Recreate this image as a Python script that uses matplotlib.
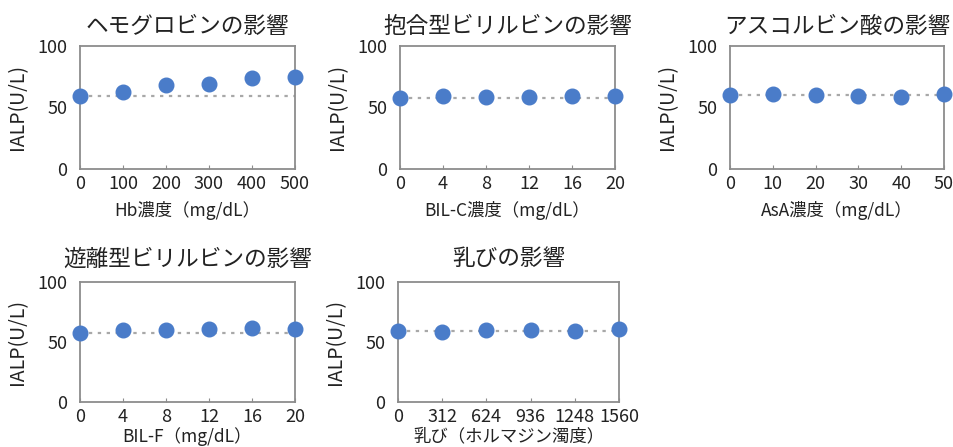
import matplotlib
matplotlib.use("Agg")
import matplotlib.pyplot as plt

plt.rcParams['font.family'] = ['Noto Sans CJK JP', 'DejaVu Sans']

# Interference study: IALP measured against interferent concentration
hb_conc = [0, 100, 200, 300, 400, 500]
hb_ialp = [59, 63, 68, 69, 74, 75]

bilc_conc = [0, 4, 8, 12, 16, 20]
bilc_ialp = [58, 59.5, 58.8, 58.3, 59.2, 59.6]

asa_conc = [0, 10, 20, 30, 40, 50]
asa_ialp = [60.2, 61.0, 60.2, 59.6, 58.3, 61.0]

bilf_conc = [0, 4, 8, 12, 16, 20]
bilf_ialp = [57.8, 59.8, 59.8, 60.5, 61.7, 60.5]

chyle_conc = [0, 312, 624, 936, 1248, 1560]
chyle_ialp = [59.4, 58.6, 60.0, 60.0, 59.4, 60.6]

titles = ["ヘモグロビンの影響", "抱合型ビリルビンの影響", "アスコルビン酸の影響",
          "遊離型ビリルビンの影響", "乳びの影響"]
xlabels = ["Hb濃度（mg/dL）", "BIL-C濃度（mg/dL）", "AsA濃度（mg/dL）",
           "BIL-F（mg/dL）", "乳び（ホルマジン濁度）"]
ylabel = "IALP(U/L)"
yticks = [0, 50, 100]

series = [(hb_conc, hb_ialp), (bilc_conc, bilc_ialp), (asa_conc, asa_ialp),
          (bilf_conc, bilf_ialp), (chyle_conc, chyle_ialp)]

W, H = 954, 447
fig = plt.figure(figsize=(W / 100, H / 100), dpi=100)
fig.patch.set_facecolor("white")

# axes boxes in pixels: left, top, right, bottom
boxes = [(80, 46, 295, 169), (400, 46, 615, 169), (730, 46, 944, 169),
         (80, 282, 295, 402), (398, 282, 619, 402)]
title_pads = [9.5, 9.5, 9.5, 12, 12]
xlabel_gaps = [32, 32, 32, 25, 25]

point_color = "#4a7cc9"
frame_color = "#8c8c8c"
text_color = "#222222"

for (l, t, r, b), (xs, ys), title, xl, tpad, gap in zip(
        boxes, series, titles, xlabels, title_pads, xlabel_gaps):
    ax = fig.add_axes([l / W, 1 - b / H, (r - l) / W, (b - t) / H])
    ax.set_xlim(xs[0], xs[-1])
    ax.set_ylim(0, 100)
    # reference level from the control sample
    ax.plot([xs[0], xs[-1]], [ys[0], ys[0]], linestyle=(0, (1.5, 2.5)),
            color="#a8a8a8", linewidth=1.6, zorder=1, clip_on=False)
    ax.plot(xs, ys, linestyle="none", marker="o", markersize=10.5,
            color=point_color, markeredgecolor=point_color, zorder=3,
            clip_on=False)
    ax.set_xticks(xs)
    ax.set_xticklabels([str(v) for v in xs])
    ax.set_yticks(yticks)
    for sp in ax.spines.values():
        sp.set_color(frame_color)
        sp.set_linewidth(1.3)
    ax.tick_params(axis="x", direction="in", length=3, color=frame_color,
                   labelsize=13, pad=4, labelcolor=text_color)
    ax.tick_params(axis="y", length=0, labelsize=13, pad=9,
                   labelcolor=text_color)
    ax.set_title(title, fontsize=16.3, pad=tpad, color=text_color)
    ax.set_xlabel(xl, fontsize=12.5, color=text_color)
    ax.xaxis.set_label_coords(0.5, -gap / (b - t))
    ax.set_ylabel(ylabel, fontsize=14, color=text_color)
    ax.yaxis.set_label_coords(-52 / (r - l), 0.5)

fig.savefig("out.png", dpi=100, facecolor="white")
